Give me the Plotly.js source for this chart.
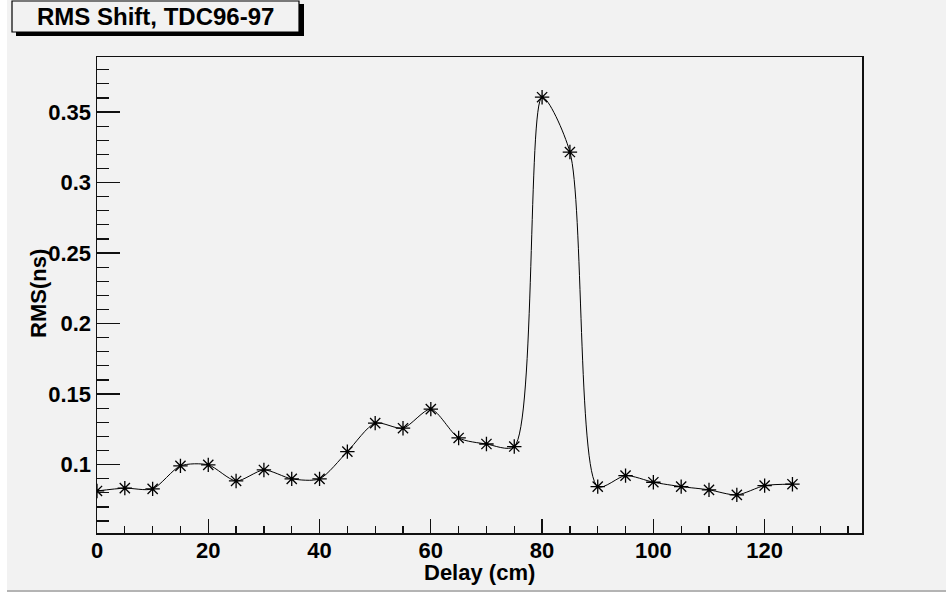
<!DOCTYPE html>
<html>
<head>
<meta charset="utf-8">
<script src="https://cdn.plot.ly/plotly-3.0.1.min.js"></script>
<style>
  html, body { margin: 0; padding: 0; background: #ffffff; }
  #chart { width: 946px; height: 592px; }
</style>
</head>
<body>
<div id="chart"></div>
<script>
// Delay settings (cm) and the measured RMS of the TDC96-97 time shift (ns)
const delayCm = [0, 5, 10, 15, 20, 25, 30, 35, 40, 45, 50, 55, 60,
                 65, 70, 75, 80, 85, 90, 95, 100, 105, 110, 115, 120, 125];
const rmsNs = [0.0813, 0.0833, 0.0828, 0.0991, 0.0998, 0.0884, 0.0962, 0.0899, 0.0899,
               0.1092, 0.1294, 0.1258, 0.1393, 0.1189, 0.1146, 0.1128, 0.3605, 0.3216,
               0.0844, 0.0922, 0.0875, 0.0844, 0.0821, 0.0785, 0.0851, 0.0861];

const chartTitle = 'RMS Shift, TDC96-97';
const xTitle = 'Delay (cm)';
const yTitle = 'RMS(ns)';

// Canvas and frame geometry (pixels)
const W = 946, H = 592;
const M = { l: 97, r: 84, t: 57, b: 59 };
const PW = W - M.l - M.r, PH = H - M.t - M.b;
const px = x => (x - M.l) / PW;        // pixel column -> paper x
const py = y => (H - M.b - y) / PH;    // pixel row -> paper y

const boldFont = { family: 'Liberation Sans, Arial, sans-serif', size: 22, color: '#000', weight: 'bold' };

const trace = {
  x: delayCm,
  y: rmsNs,
  type: 'scatter',
  mode: 'lines+markers',
  line: { color: '#000', width: 1, shape: 'spline', smoothing: 0.75 },
  marker: { symbol: 'asterisk-open', size: 12, color: '#000', line: { color: '#000', width: 1.3 } },
  hoverinfo: 'x+y'
};

const axisCommon = {
  showgrid: false,
  zeroline: false,
  showline: true,
  linecolor: '#111',
  linewidth: 1.5,
  mirror: true,
  ticks: 'inside',
  tickcolor: '#111',
  tickwidth: 1.2,
  tickfont: boldFont,
  fixedrange: true
};

const layout = {
  width: W,
  height: H,
  margin: M,
  paper_bgcolor: '#f2f2f2',
  plot_bgcolor: '#f2f2f2',
  showlegend: false,
  xaxis: Object.assign({}, axisCommon, {
    range: [0, 137.5],
    tick0: 0, dtick: 20, ticklen: 14,
    ticklabelstandoff: -3,
    minor: { dtick: 5, ticklen: 7, ticks: 'inside', tickcolor: '#111', tickwidth: 1.2 }
  }),
  yaxis: Object.assign({}, axisCommon, {
    range: [0.0515, 0.389],
    tick0: 0, dtick: 0.05, ticklen: 23,
    minor: { dtick: 0.01, ticklen: 12, ticks: 'inside', tickcolor: '#111', tickwidth: 1.2 }
  }),
  shapes: [
    // white margin strip on the left, white strip and grey rule at the bottom
    { type: 'rect', xref: 'paper', yref: 'paper', x0: px(0), x1: px(7), y0: py(0), y1: py(H),
      fillcolor: '#ffffff', line: { width: 0 } },
    { type: 'rect', xref: 'paper', yref: 'paper', x0: px(0), x1: px(W), y0: py(590), y1: py(H),
      fillcolor: '#ffffff', line: { width: 0 } },
    { type: 'rect', xref: 'paper', yref: 'paper', x0: px(7), x1: px(W), y0: py(590), y1: py(592),
      fillcolor: '#b4b4b4', line: { width: 0 } },
    // title box shadow and box
    { type: 'rect', xref: 'paper', yref: 'paper', x0: px(16), x1: px(304), y0: py(36), y1: py(4),
      fillcolor: '#000', line: { width: 0 } },
    { type: 'rect', xref: 'paper', yref: 'paper', x0: px(12), x1: px(299), y0: py(32), y1: py(1),
      fillcolor: '#f2f2f2', line: { color: '#000', width: 1.2 } }
  ],
  annotations: [
    { text: chartTitle, xref: 'paper', yref: 'paper', x: px(155), y: py(16.5),
      xanchor: 'center', yanchor: 'middle', showarrow: false,
      font: { family: 'Liberation Sans, Arial, sans-serif', size: 24, color: '#000', weight: 'bold' } },
    // axis titles
    { text: xTitle, xref: 'paper', yref: 'paper', x: px(479), y: py(572),
      xanchor: 'center', yanchor: 'middle', showarrow: false, font: boldFont },
    { text: yTitle, xref: 'paper', yref: 'paper', x: px(38), y: py(294), textangle: -90,
      xanchor: 'center', yanchor: 'middle', showarrow: false, font: boldFont }
  ]
};

Plotly.newPlot('chart', [trace], layout, { displayModeBar: false, staticPlot: true });
</script>
</body>
</html>
